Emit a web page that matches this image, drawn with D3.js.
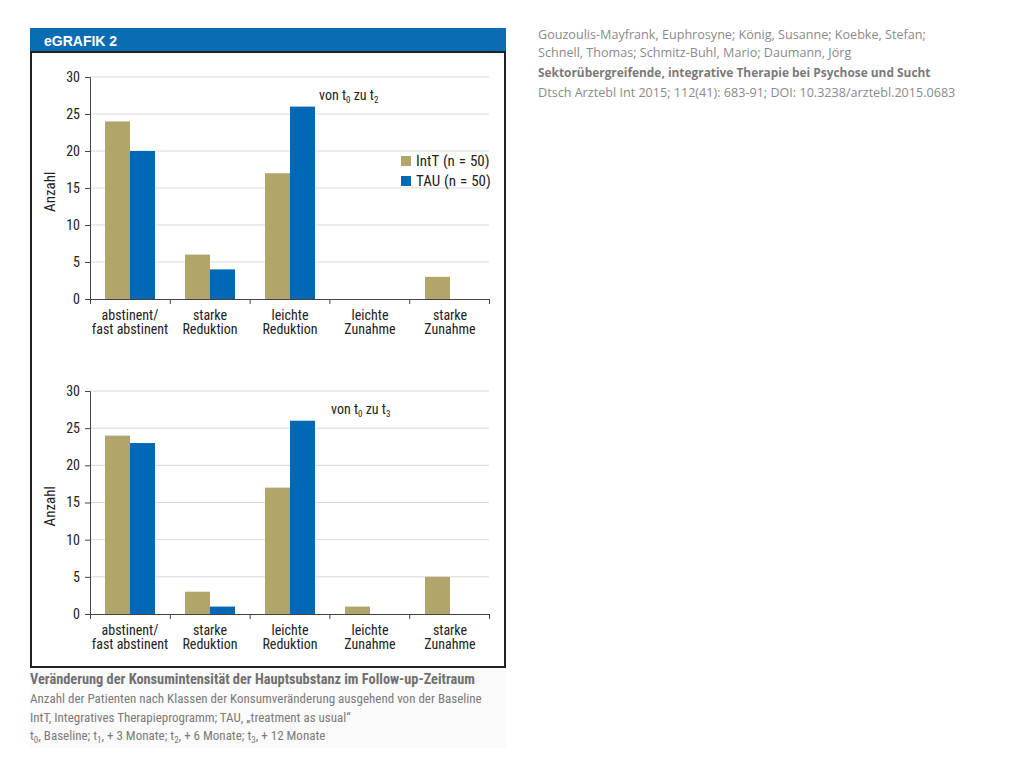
<!DOCTYPE html>
<html><head><meta charset="utf-8">
<script src="https://cdn.jsdelivr.net/npm/d3@7"></script>
<style>
body{margin:0;background:#fff;}
svg{display:block;}
</style></head>
<body>
<svg id="c" width="1024" height="768"></svg>
<script>
const categories = [["abstinent/","fast abstinent"],["starke","Reduktion"],["leichte","Reduktion"],["leichte","Zunahme"],["starke","Zunahme"]];
const seriesNames = ["IntT (n = 50)","TAU (n = 50)"];
const intT_t2 = [24, 6, 17, 0, 3];
const tau_t2  = [20, 4, 26, 0, 0];
const intT_t3 = [24, 3, 17, 1, 5];
const tau_t3  = [23, 1, 26, 0, 0];
const yTicks = [0,5,10,15,20,25,30];
const colors = ["#b2a56c","#0068b4"];
const narrow = "'Liberation Sans Narrow','Arial Narrow','Roboto Condensed',sans-serif";

const svg = d3.select("#c");

svg.append("rect").attr("x",30).attr("y",28).attr("width",476).attr("height",24).attr("fill","#0a6db3");
svg.append("text").attr("x",44).attr("y",46).attr("fill","#fff").attr("font-family","'Liberation Sans',Arial,sans-serif")
  .attr("font-weight","bold").attr("font-size",14).text("eGRAFIK 2");
svg.append("rect").attr("x",31).attr("y",52).attr("width",474).attr("height",615).attr("fill","none").attr("stroke","#222").attr("stroke-width",2);
svg.append("rect").attr("x",30).attr("y",668).attr("width",476).attr("height",80).attr("fill","#fafafa");

function drawChart(top, bottom, a, b, sub){
  const x = d3.scaleBand().domain(d3.range(categories.length)).range([90,490]).paddingInner(0).paddingOuter(0);
  const y = d3.scaleLinear().domain([0,30]).range([bottom, top]);
  const g = svg.append("g");
  g.selectAll("line.grid").data(yTicks.slice(1)).join("line")
    .attr("x1",90).attr("x2",489).attr("y1",d=>y(d)).attr("y2",d=>y(d))
    .attr("stroke","#d9d9d9").attr("stroke-width",1);
  const ya = g.append("g").attr("transform","translate(90,0)")
    .call(d3.axisLeft(y).tickValues(yTicks).tickSize(5).tickPadding(5));
  ya.select(".domain").attr("stroke","#444");
  ya.selectAll(".tick line").attr("stroke","#444");
  ya.selectAll("text").attr("font-family",narrow).attr("font-size",14).attr("fill","#222");
  const xa = g.append("g").attr("transform",`translate(0,${bottom})`)
    .call(d3.axisBottom(d3.scaleLinear().domain([0,5]).range([90,489])).tickValues([0,1,2,3,4,5]).tickSize(5).tickFormat(""));
  xa.select(".domain").attr("stroke","#444");
  xa.selectAll(".tick line").attr("stroke","#444");
  const inner = d3.scaleBand().domain([0,1]).range([15, x.bandwidth()-15]).padding(0);
  [a,b].forEach((vals,si)=>{
    g.selectAll(null).data(vals).join("rect")
      .attr("x",(d,i)=>x(i)+inner(si)).attr("width",inner.bandwidth())
      .attr("y",d=>y(d)).attr("height",d=>bottom-y(d)).attr("fill",colors[si]);
  });
  categories.forEach((c,i)=>{
    const t = g.append("text").attr("x",x(i)+x.bandwidth()/2).attr("y",bottom+21)
      .attr("text-anchor","middle").attr("font-family",narrow).attr("font-size",14).attr("fill","#222");
    t.append("tspan").attr("x",x(i)+x.bandwidth()/2).text(c[0]);
    t.append("tspan").attr("x",x(i)+x.bandwidth()/2).attr("dy",14).text(c[1]);
  });
  g.append("text").attr("transform",`translate(55,${y(14.5)}) rotate(-90)`).attr("text-anchor","middle")
    .attr("font-family",narrow).attr("font-size",15).attr("fill","#222").text("Anzahl");
  const an = g.append("text").attr("x",sub==="2"?319:331).attr("y",y(27.5)+4)
    .attr("font-family",narrow).attr("font-size",14).attr("fill","#222");
  an.append("tspan").text("von t");
  an.append("tspan").attr("font-size",9).attr("dy",3).text("0");
  an.append("tspan").attr("dy",-3).text(" zu t");
  an.append("tspan").attr("font-size",9).attr("dy",3).text(sub);
  return y;
}
drawChart(77, 299, intT_t2, tau_t2, "2");
drawChart(391, 614, intT_t3, tau_t3, "3");

seriesNames.forEach((s,i)=>{
  svg.append("rect").attr("x",401).attr("y",156+i*20).attr("width",10).attr("height",10).attr("fill",colors[i]);
  svg.append("text").attr("x",416).attr("y",166+i*20).attr("font-family",narrow).attr("font-size",15)
    .attr("word-spacing",0.5).attr("fill","#222").text(s);
});

const cap = svg.append("g").attr("font-family",narrow).attr("font-size",13).attr("fill","#7a7a7a");
cap.append("text").attr("x",30).attr("y",684).attr("font-weight","bold").attr("font-size",14.5).attr("fill","#707070")
  .attr("textLength",445).attr("lengthAdjust","spacingAndGlyphs")
  .text("Veränderung der Konsumintensität der Hauptsubstanz im Follow-up-Zeitraum");
cap.append("text").attr("x",30).attr("y",703).text("Anzahl der Patienten nach Klassen der Konsumveränderung ausgehend von der Baseline");
cap.append("text").attr("x",30).attr("y",722).text("IntT, Integratives Therapieprogramm; TAU, „treatment as usual“");
const l4 = cap.append("text").attr("x",30).attr("y",740);
[["t",0],["0",1],[", Baseline; t",0],["1",1],[", + 3 Monate; t",0],["2",1],[", + 6 Monate; t",0],["3",1],[", + 12 Monate",0]].forEach(([s,sub],k)=>{
  const ts = l4.append("tspan").text(s);
  if(sub){ts.attr("font-size",9).attr("dy",3);} else if(k>0){ts.attr("dy",-3);}
});

const rt = svg.append("g").attr("font-family","'Open Sans','Liberation Sans',sans-serif").attr("font-size",12.6).attr("fill","#8a8a8a");
rt.append("text").attr("x",538).attr("y",39).text("Gouzoulis-Mayfrank, Euphrosyne; König, Susanne; Koebke, Stefan;");
rt.append("text").attr("x",538).attr("y",57).text("Schnell, Thomas; Schmitz-Buhl, Mario; Daumann, Jörg");
rt.append("text").attr("x",538).attr("y",77).attr("font-weight","bold").attr("font-size",11.9).attr("fill","#7a7a7a").text("Sektorübergreifende, integrative Therapie bei Psychose und Sucht");
rt.append("text").attr("x",538).attr("y",97).text("Dtsch Arztebl Int 2015; 112(41): 683-91; DOI: 10.3238/arztebl.2015.0683");
</script>
</body></html>
